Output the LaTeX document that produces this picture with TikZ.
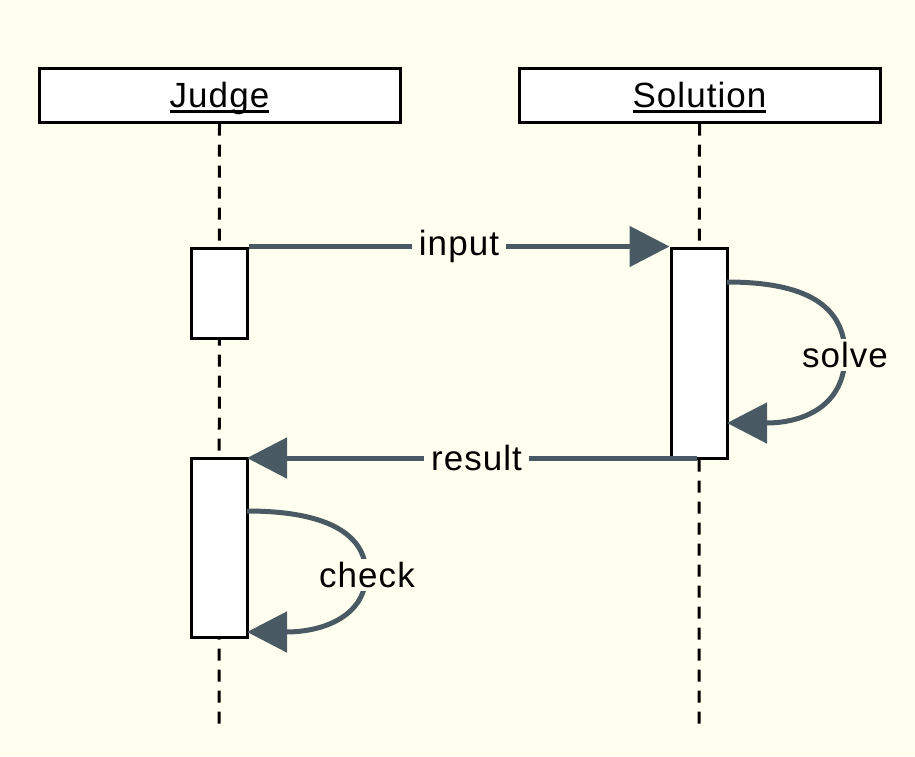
\documentclass[tikz,border=0pt]{standalone}
\usepackage{fontspec}
\setmainfont{Liberation Sans}[LetterSpace=3]
\usetikzlibrary{arrows.meta}
\definecolor{bgc}{RGB}{255,255,240}
\definecolor{msgc}{RGB}{74,90,101}
\newcommand\myul[1]{\leavevmode\setbox0\hbox{#1}\rlap{\vrule height -3pt depth 5.5pt width \wd0}\box0}
\begin{document}
\begin{tikzpicture}[x=1pt,y=-1pt,
  every node/.style={font=\fontsize{35}{42}\selectfont},
  actor/.style={draw=black,fill=white,line width=3pt,minimum width=361pt,minimum height=54pt,inner sep=0pt},
  act/.style={draw=black,fill=white,line width=3pt,minimum width=56pt,inner sep=0pt},
  life/.style={line width=3pt,dash pattern=on 12pt off 9pt},
  msg/.style={draw=msgc,line width=5pt,-{Triangle[length=40pt,width=40pt]}},
  lbl/.style={fill=bgc,inner xsep=7pt,inner ysep=3pt,text=black}]
\fill[bgc] (0,0) rectangle (915,756);
\useasboundingbox (0,0) rectangle (915,756);
% actors
\node[actor] (judge) at (219.5,95) {};
\node[actor] (sol) at (699.5,95) {};
\node[anchor=base,inner sep=0pt] (tjudge) at (219.5,107) {\myul{Judge}};
\node[anchor=base,inner sep=0pt] (tsol) at (699.5,107) {\myul{Solution}};
\coordinate (jend) at (219,725);
\coordinate (send) at (699,725);
\draw[life] (judge.south) -- (jend);
\draw[life] (sol.south) -- (send);
% activations
\node[act,minimum height=90pt] (ja1) at (219,293) {};
\node[act,minimum height=210pt] (sa) at (699,353) {};
\node[act,minimum height=179pt] (ja2) at (219,547.5) {};
% input
\draw[msg] (ja1.north east) -- node[lbl,pos=0.5] (linput) {input} (sa.north west);
% result
\coordinate (rstart) at (697,458);
\coordinate (rend) at (247,458);
\draw[msg] (rstart) -- node[lbl,pos=0.49] (lresult) {result} (rend);
% solve loop
\coordinate (s1) at (727,282);
\coordinate (s2) at (727,423);
\draw[msg] (s1) .. controls (805,282) and (845,305) .. (845,355)
  .. controls (845,405) and (805,423) .. (s2);
\node[lbl] (lsolve) at (845,355) {solve};
% check loop
\coordinate (c1) at (247,511);
\coordinate (c2) at (247,632);
\draw[msg] (c1) .. controls (325,511) and (366,533) .. (366,574)
  .. controls (366,615) and (325,632) .. (c2);
\node[lbl] (lcheck) at (367,575) {check};
\end{tikzpicture}
\end{document}
